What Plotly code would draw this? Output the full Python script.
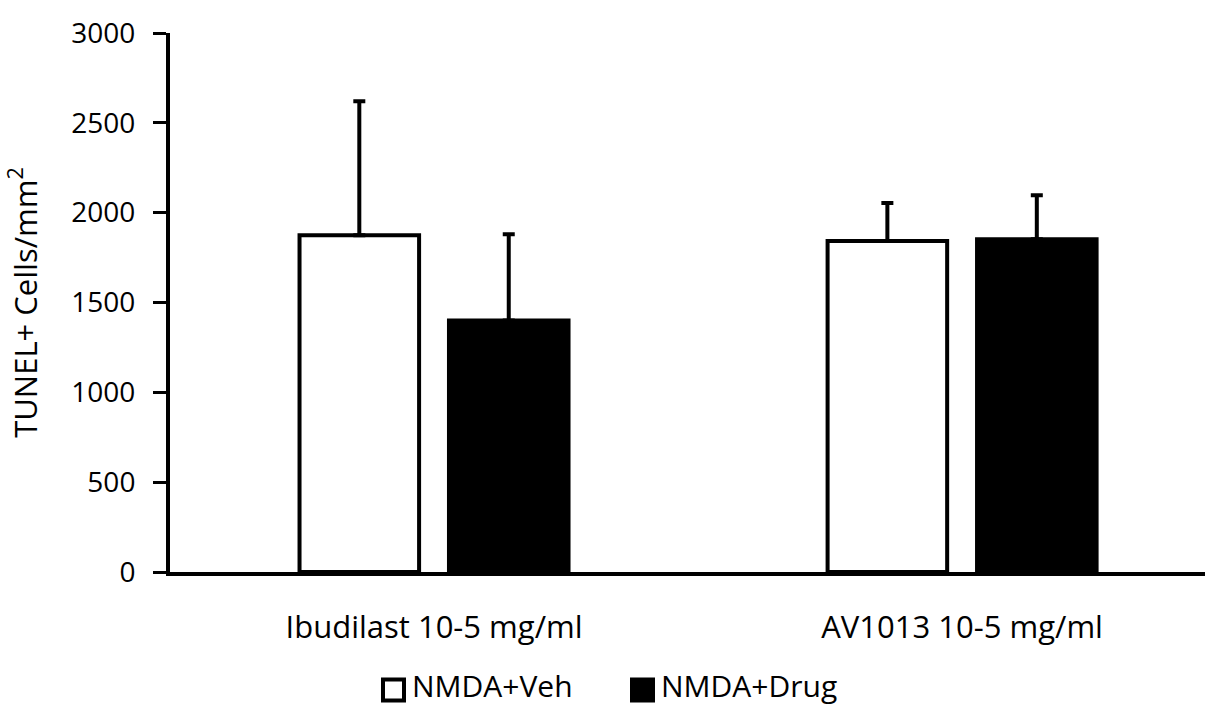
import plotly.graph_objects as go

categories = ["Ibudilast 10-5 mg/ml", "AV1013 10-5 mg/ml"]
veh_values = [1875, 1842]
veh_err = [745, 212]
drug_values = [1400, 1852]
drug_err = [480, 245]
y_ticks = [0, 500, 1000, 1500, 2000, 2500, 3000]
legend_names = ["NMDA+Veh", "NMDA+Drug"]
legend_fill = ["white", "black"]

FONT = "Open Sans"
L, R, T, B = 170, 7, 33, 133
W, H = 1212, 705
PW, PH = W - L - R, H - T - B

fig = go.Figure()
fig.add_trace(go.Bar(
    name=legend_names[0], x=categories, y=veh_values,
    marker=dict(color=legend_fill[0], line=dict(color="black", width=4)),
    error_y=dict(type="data", array=veh_err, arrayminus=[0, 0], symmetric=False,
                 color="black", thickness=4, width=6),
))
fig.add_trace(go.Bar(
    name=legend_names[1], x=categories, y=drug_values,
    marker=dict(color=legend_fill[1], line=dict(color="black", width=4)),
    error_y=dict(type="data", array=drug_err, arrayminus=[0, 0], symmetric=False,
                 color="black", thickness=4, width=6),
))

# manual legend (bigger squares than plotly's legend icons)
def px_x(p):
    return (p - L) / PW

def px_y(p):
    return (H - B - p) / PH

legend_sq_x = [383, 632]
legend_txt_x = [410, 659]
sq = 21
cy = 690
shapes = []
annotations = []
for name, fill, sx, tx in zip(legend_names, legend_fill, legend_sq_x, legend_txt_x):
    shapes.append(dict(type="rect", xref="paper", yref="paper",
                       x0=px_x(sx), x1=px_x(sx + sq), y0=px_y(cy - sq / 2), y1=px_y(cy + sq / 2),
                       fillcolor=fill, line=dict(color="black", width=4)))
    annotations.append(dict(text=name, xref="paper", yref="paper", x=px_x(tx), y=px_y(cy - 5),
                            xanchor="left", yanchor="middle", showarrow=False,
                            font=dict(size=30, color="black", family=FONT)))

fig.update_layout(
    width=W, height=H,
    paper_bgcolor="white", plot_bgcolor="white",
    margin=dict(l=L, r=R, t=T, b=B),
    barmode="group", bargap=0.434, bargroupgap=0.2,
    font=dict(family=FONT, size=28, color="black"),
    showlegend=False,
    shapes=shapes, annotations=annotations,
    xaxis=dict(range=[-0.5, 1.46], showline=True, linecolor="black", linewidth=4,
               ticks="", showgrid=False, zeroline=False, automargin=False,
               tickfont=dict(size=31, color="black"), ticklabelstandoff=25),
    yaxis=dict(range=[0, 3000], tickvals=y_ticks, showline=True, linecolor="black",
               linewidth=4, ticks="outside", ticklen=13, tickwidth=3, tickcolor="black",
               showgrid=False, zeroline=False, automargin=False, ticklabelstandoff=12,
               tickfont=dict(size=28, color="black"),
               title=dict(text="TUNEL+ Cells/mm<sup>2</sup>", font=dict(size=31, color="black"),
                          standoff=26)),
)

fig.write_html("out.html")
